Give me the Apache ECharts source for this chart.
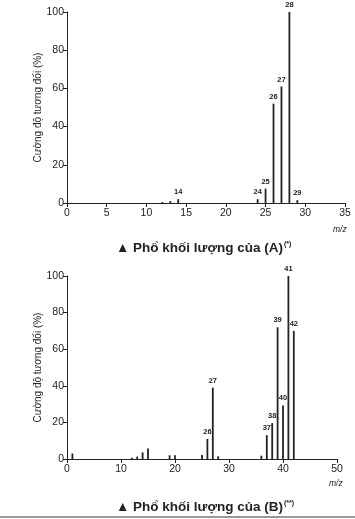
<!DOCTYPE html>
<html>
<head>
<meta charset="utf-8">
<script src="https://cdn.jsdelivr.net/npm/echarts@6/dist/echarts.min.js"></script>
<style>
html,body{margin:0;padding:0;background:#fff;}
#c{width:355px;height:519px;}
</style>
</head>
<body>
<div id="c"></div>
<script>
// Spectrum A
var massA = [12, 13, 14, 24, 25, 26, 27, 28, 29];
var intensityA = [0.5, 1, 2, 2, 7.5, 52, 61, 100, 1.5];
var labeledA = [14, 24, 25, 26, 27, 28, 29];
var xTicksA = {min: 0, max: 35, interval: 5};

// Spectrum B
var massB = [1, 12, 13, 14, 15, 19, 20, 25, 26, 27, 28, 36, 37, 38, 39, 40, 41, 42];
var intensityB = [3, 0.7, 1.3, 3.6, 5.8, 2, 2, 2.2, 11, 39, 1.5, 1.8, 13, 19.6, 72, 29.3, 100, 70];
var labeledB = [26, 27, 37, 38, 39, 40, 41, 42];
var xTicksB = {min: 0, max: 50, interval: 10};

var yTicks = {min: 0, max: 100, interval: 20};
var yName = 'Cường độ tương đối (%)';
var titleA = '▲ Phổ khối lượng của (A)';
var supA = '(*)';
var titleB = '▲ Phổ khối lượng của (B)';
var supB = '(**)';
var xUnit = 'm/z';

var FONT = 'Liberation Sans, Arial, sans-serif';
var INK = '#222';

function buildData(ms, ints, labeled) {
  return ms.map(function (m, i) {
    return {value: [m, ints[i]], label: {show: labeled.indexOf(m) >= 0}};
  });
}

function xAxisCfg(idx, t) {
  return {
    type: 'value', gridIndex: idx, min: t.min, max: t.max, interval: t.interval,
    axisLine: {show: true, lineStyle: {color: INK, width: 1}},
    axisTick: {show: true, length: 4, lineStyle: {color: INK}},
    axisLabel: {color: INK, fontSize: 10.5, fontFamily: FONT, margin: 5},
    splitLine: {show: false}
  };
}
function yAxisCfg(idx) {
  return {
    type: 'value', gridIndex: idx, min: yTicks.min, max: yTicks.max, interval: yTicks.interval,
    name: yName, nameLocation: 'middle', nameGap: 24, nameRotate: 90, nameMoveOverlap: false,
    nameTextStyle: {color: INK, fontSize: 10, fontFamily: FONT},
    axisLine: {show: true, lineStyle: {color: INK, width: 1}},
    axisTick: {show: true, length: 4, lineStyle: {color: INK}},
    axisLabel: {color: INK, fontSize: 10.5, fontFamily: FONT, margin: 3},
    splitLine: {show: false}
  };
}
function seriesCfg(idx, data) {
  return {
    type: 'bar', xAxisIndex: idx, yAxisIndex: idx, data: data,
    barWidth: 1.8, barGap: '-100%',
    itemStyle: {color: INK},
    label: {position: 'top', distance: 3, fontSize: 7.5, fontWeight: 'bold', color: INK, fontFamily: FONT,
      formatter: function (p) { return p.value[0]; }},
    animation: false
  };
}
function titleCfg(main, sup, top) {
  return {
    left: 111, top: top,
    text: '{m|' + main + '}{s|' + sup + '}',
    textStyle: {
      rich: {
        m: {fontSize: 13.5, fontWeight: 'bold', color: INK, fontFamily: FONT, verticalAlign: 'bottom'},
        s: {fontSize: 7, fontWeight: 'bold', color: INK, fontFamily: FONT, verticalAlign: 'top', padding: [0, 0, 6, 1]}
      }
    }
  };
}

var chart = echarts.init(document.getElementById('c'), null, {renderer: 'canvas'});
chart.setOption({
  backgroundColor: '#fff',
  animation: false,
  grid: [
    {left: 67, top: 12, width: 278, height: 191},
    {left: 67, top: 276, width: 270, height: 183}
  ],
  title: [titleCfg(titleA, supA, 236), titleCfg(titleB, supB, 495)],
  xAxis: [xAxisCfg(0, xTicksA), xAxisCfg(1, xTicksB)],
  yAxis: [yAxisCfg(0), yAxisCfg(1)],
  series: [seriesCfg(0, buildData(massA, intensityA, labeledA)), seriesCfg(1, buildData(massB, intensityB, labeledB))],
  graphic: [
    {type: 'text', left: 333, top: 225, style: {text: xUnit, fontSize: 8.5, fontStyle: 'italic', fill: INK, fontFamily: FONT}},
    {type: 'text', left: 329, top: 479, style: {text: xUnit, fontSize: 8.5, fontStyle: 'italic', fill: INK, fontFamily: FONT}},
    {type: 'rect', shape: {x: 0, y: 516, width: 355, height: 2}, style: {fill: '#999'}}
  ]
});
</script>
</body>
</html>
